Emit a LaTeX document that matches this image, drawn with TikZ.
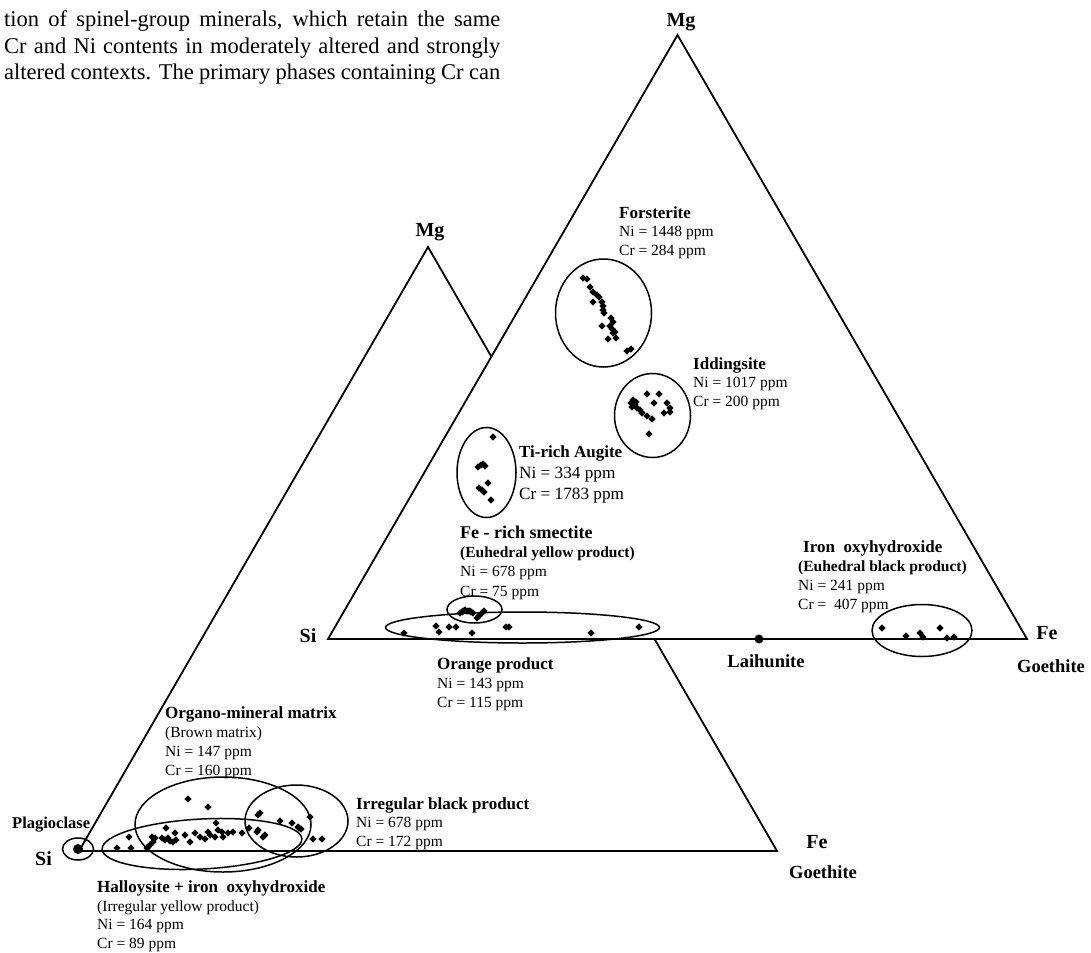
\documentclass[tikz,border=0pt]{standalone}
\usepackage{fontspec}
\setmainfont{Liberation Serif}
\usetikzlibrary{shapes.geometric,positioning}
\newcommand{\phtitle}[1]{{\bfseries\fontsize{17}{18.5}\selectfont #1}}

\begin{document}
\begin{tikzpicture}[x=1pt,y=-1pt]
\tikzstyle{dat}=[diamond, fill=black, inner sep=0pt, minimum size=7.5pt]
\tikzstyle{dot}=[circle, fill=black, inner sep=0pt, minimum size=9pt]
\tikzstyle{lab}=[anchor=base west, inner sep=0pt, align=left, font=\fontsize{15.5}{18.5}\selectfont]
\tikzstyle{apex}=[anchor=base, inner sep=0pt, font=\bfseries\fontsize{20}{24}\selectfont]
\tikzstyle{phase}=[anchor=base, inner sep=0pt, font=\bfseries\fontsize{18.5}{22}\selectfont]
\tikzstyle{ring}=[line width=1.5pt]
\useasboundingbox (0,0) rectangle (1091,952);

% page text (node base = last line)
\node[anchor=base west, inner sep=0pt, align=left, font=\fontsize{22.5}{26.5}\selectfont] (body) at (4,80)
 {\makebox[496pt][s]{tion of spinel-group minerals, which retain the same}\\
  \makebox[496pt][s]{Cr and Ni contents in moderately altered and strongly}\\
  \makebox[496pt][s]{altered contexts. The primary phases containing Cr can}};

% triangles
\coordinate (SiB) at (79,851);
\coordinate (FeB) at (777,851);
\coordinate (MgB) at (428,247);
\draw[line width=1.8pt] (SiB) -- (FeB) -- (MgB) -- cycle;
\coordinate (SiA) at (328,639);
\coordinate (FeA) at (1027,639);
\coordinate (MgA) at (677.5,35);
\draw[line width=1.8pt, fill=white] (SiA) -- (FeA) -- (MgA) -- cycle;

\node[apex] (mgA) at (681,27) {Mg};
\node[apex] (mgB) at (430,236) {Mg};
\node[apex] (siA) at (308,642) {Si};
\node[apex] (siB) at (43.5,865) {Si};
\node[apex] (feA) at (1047,639) {Fe};
\node[apex] (feB) at (817,848) {Fe};
\node[phase] (goeA) at (1051,672) {Goethite};
\node[phase] (goeB) at (823,878) {Goethite};
\node[phase] (lai) at (766,667) {Laihunite};
\node[phase, anchor=base west, font=\bfseries\fontsize{16.5}{20}\selectfont] (plg) at (12,828) {Plagioclase};

% fields
\draw[ring] (603.5,313) ellipse [x radius=48, y radius=54];
\draw[ring] (652.5,415.5) ellipse [x radius=38, y radius=42];
\draw[ring] (486.5,472.5) ellipse [x radius=29.5, y radius=45];
\draw[ring] (474.5,609.5) ellipse [x radius=27.5, y radius=13.5];
\draw[ring] (522.5,627.5) ellipse [x radius=137, y radius=15.5];
\draw[ring] (922,630.5) ellipse [x radius=50, y radius=26];
\draw[ring] (78,849) ellipse [x radius=15.5, y radius=11];
\draw[ring] (223,824.5) ellipse [x radius=88, y radius=47.5];
\draw[ring] (296.5,821) ellipse [x radius=51.5, y radius=36];
\coordinate (hal) at (202,844);
\draw[ring, rotate=3] (hal) ellipse [x radius=100, y radius=25];

\node[dot] (laiD) at (759,639) {};
\node[dot, minimum size=10pt] (plgD) at (78,849) {};

% analyses
\foreach \x/\y [count=\i] in {583/278,587/279,590/287,593/292,597/295,599/297,593/302,
  602/302,603/306,603/310,604/313,611/318,613/322,602/326,610/326,612/329,615/332,
  613/333,608/339,616/338,627/351,631/349}
  \node[dat] (fo\i) at (\x,\y) {};
\foreach \x/\y [count=\i] in {633/400,635/405,632/407,637/408,640/410,631/403,636/402,
  647/394,659/394,654/403,642/413,647/416,652/419,664/413,670/412,667/403,670/408,649/434}
  \node[dat] (id\i) at (\x,\y) {};
\foreach \x/\y [count=\i] in {493/437,478/467,481/465,483/464,485/466,479/488,482/490,
  484/492,488/483,491/500}
  \node[dat] (ti\i) at (\x,\y) {};
\foreach \x/\y [count=\i] in {460/613,462/612,463/611,465/610,468/611,470/611,471/612,
  473/613,477/618,479/616,482/613,484/611}
  \node[dat] (sm\i) at (\x,\y) {};
\foreach \x/\y [count=\i] in {404/633,436/626,439/632,449/627,456/627,472/633,506/627,
  509/627,591/633,639/627}
  \node[dat] (or\i) at (\x,\y) {};
\foreach \x/\y [count=\i] in {882/628,906/636,920/633,923/637,940/628,947/638,954/637}
  \node[dat] (ir\i) at (\x,\y) {};
\foreach \x/\y [count=\i] in {117/848,131/848,129/837,147/848,148/847,150/845,153/842,
  152/837,155/838,162/838,165/840,168/838,170/841,175/833,176/840,173/842,166/828,
  185/835,190/842,195/833,200/837,205/839,208/832,210/835,215/837,216/823,218/830,
  222/832,223/837,228/833,233/832,242/833,249/828,257/832,258/830,263/837,265/835,
  258/815,260/813,188/799,208/807,280/821,292/823,298/827,301/829,299/828,
  310/817,313/839,322/839}
  \node[dat] (lo\i) at (\x,\y) {};

% labels (placed at the baseline of their last line)
\node[lab] (foL) at (619,255) {\phtitle{Forsterite}\\Ni = 1448 ppm\\Cr = 284 ppm};
\node[lab] (idL) at (693,406) {\phtitle{Iddingsite}\\Ni = 1017 ppm\\Cr = 200 ppm};
\node[lab, font=\fontsize{17.2}{21}\selectfont] (tiL) at (519,499) {\phtitle{Ti-rich Augite}\\Ni = 334 ppm\\Cr = 1783 ppm};
\node[lab, font=\fontsize{15.5}{19.3}\selectfont] (smL) at (460,596) {{\bfseries\fontsize{18}{19.3}\selectfont Fe - rich smectite}\\\textbf{(Euhedral yellow product)}\\Ni = 678 ppm\\Cr = 75 ppm};
\node[lab, font=\fontsize{15.5}{19}\selectfont] (irL) at (798,609) {\hspace*{5pt}\phtitle{Iron~ oxyhydroxide}\\\textbf{(Euhedral black product)}\\Ni = 241 ppm\\Cr =~ 407 ppm};
\node[lab, font=\fontsize{15.5}{19}\selectfont] (orL) at (437,707) {\phtitle{Orange product}\\Ni = 143 ppm\\Cr = 115 ppm};
\node[lab, font=\fontsize{15.5}{19}\selectfont] (omL) at (165,775) {\phtitle{Organo-mineral matrix}\\(Brown matrix)\\Ni = 147 ppm\\Cr = 160 ppm};
\node[lab] (ibL) at (356,846) {\phtitle{Irregular black product}\\Ni = 678 ppm\\Cr = 172 ppm};
\node[lab] (haL) at (97,948) {\phtitle{Halloysite + iron~ oxyhydroxide}\\(Irregular yellow product)\\Ni = 164 ppm\\Cr = 89 ppm};
\end{tikzpicture}
\end{document}
